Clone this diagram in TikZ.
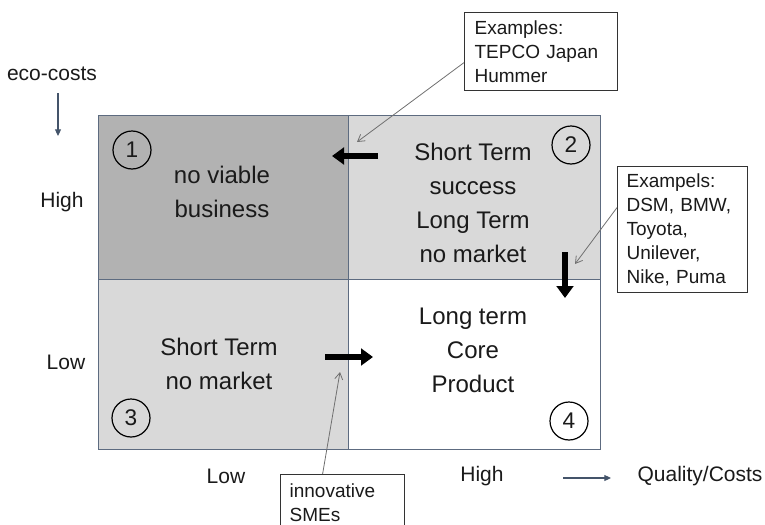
\documentclass[tikz,border=0pt]{standalone}
\usepackage{fontspec}
\setmainfont{Liberation Sans}
\usetikzlibrary{arrows.meta}
\definecolor{edgec}{HTML}{5D6B80}
\definecolor{darkq}{HTML}{B2B2B2}
\definecolor{lightq}{HTML}{D9D9D9}
\definecolor{axisc}{HTML}{44546A}
\definecolor{txt}{HTML}{1A1A1A}
\definecolor{thinc}{HTML}{707070}
\tikzset{
  quad/.style={draw=edgec, line width=1.1pt, anchor=north west, inner sep=0pt},
  qtext/.style={align=center, text=txt, font=\fontsize{18}{25.5}\selectfont},
  num/.style={circle, draw=black, line width=0.9pt, minimum size=28.5pt, inner sep=0pt, text=txt, font=\fontsize{17}{18}\selectfont},
  exbox/.style={draw=black!80, line width=0.9pt, fill=white, anchor=north west, align=left, text=txt, font=\fontsize{14.25}{18}\selectfont},
  axlabel/.style={text=txt, font=\fontsize{15.75}{18}\selectfont},
  bigarrow/.style={line width=3.9pt, -{Triangle[length=9pt,width=12.5pt]}},
  thinarrow/.style={draw=thinc, line width=0.6pt, -{Straight Barb[length=5pt,width=6pt]}},
  axarrow/.style={draw=axisc, line width=0.8pt, -{Triangle[length=5pt,width=4.5pt]}}
}
\begin{document}
\begin{tikzpicture}[x=0.75pt,y=-0.75pt]
\useasboundingbox (0,0) rectangle (765,525);
\clip (0,0) rectangle (765,525);
% quadrants
\node[quad, fill=darkq, minimum width=187.5pt, minimum height=123pt] (q1) at (98,115) {};
\node[quad, fill=lightq, minimum width=189pt, minimum height=123pt] (q2) at (348,115) {};
\node[quad, fill=lightq, minimum width=187.5pt, minimum height=127.5pt] (q3) at (98,279) {};
\node[quad, fill=white, minimum width=189pt, minimum height=127.5pt] (q4) at (348,279) {};
% quadrant texts
\node[qtext] (t1) at (222,192) {no viable\\business};
\node[qtext] (t2) at (473,203) {Short Term\\success\\Long Term\\no market};
\node[qtext] (t3) at (219,364) {Short Term\\no market};
\node[qtext] (t4) at (473,350) {Long term\\Core\\Product};
% numbers
\node[num] (n1) at (132,150) {1};
\node[num] (n2) at (571,145) {2};
\node[num] (n3) at (131,418) {3};
\node[num] (n4) at (569,421) {4};
% thick arrows
\coordinate (a1s) at (378,156); \coordinate (a1e) at (332,156);
\coordinate (a2s) at (565,252); \coordinate (a2e) at (565,298);
\coordinate (a3s) at (325,357); \coordinate (a3e) at (373,357);
\draw[bigarrow] (a1s) -- (a1e);
\draw[bigarrow] (a2s) -- (a2e);
\draw[bigarrow] (a3s) -- (a3e);
% example boxes
\node[exbox, text width=99.75pt, inner xsep=7.5pt, minimum height=58.5pt] (tepco) at (464,12) {Examples:\\TEPCO Japan\\Hummer};
\node[exbox, text width=84pt, inner xsep=6.75pt, minimum height=94.5pt] (dsm) at (617,166) {Exampels:\\DSM, BMW,\\Toyota,\\Unilever,\\Nike, Puma};
\node[exbox, text width=79.5pt, inner xsep=6.75pt, minimum height=42pt] (sme) at (280,474) {innovative\\SMEs};
\coordinate (p1) at (357,142);
\coordinate (p2) at (575,264);
\coordinate (p3) at (340,372);
\draw[thinarrow] ([yshift=-8.25pt]tepco.west) -- (p1);
\draw[thinarrow] ([yshift=16.5pt]dsm.west) -- (p2);
\draw[thinarrow] ([xshift=-15pt]sme.north) -- (p3);
% axes
\node[axlabel] (eco) at (52,74) {eco-costs};
\node[axlabel] (high) at (62,202) {High};
\node[axlabel] (low) at (66,362) {Low};
\node[axlabel] (xlow) at (226,476) {Low};
\node[axlabel] (xhigh) at (482,476) {High};
\node[axlabel] (qc) at (700,476) {Quality/Costs};
\coordinate (e1) at (58,93); \coordinate (e2) at (58,136);
\coordinate (h1) at (563,478); \coordinate (h2) at (611,478);
\draw[axarrow] (e1) -- (e2);
\draw[axarrow] (h1) -- (h2);
\end{tikzpicture}
\end{document}
